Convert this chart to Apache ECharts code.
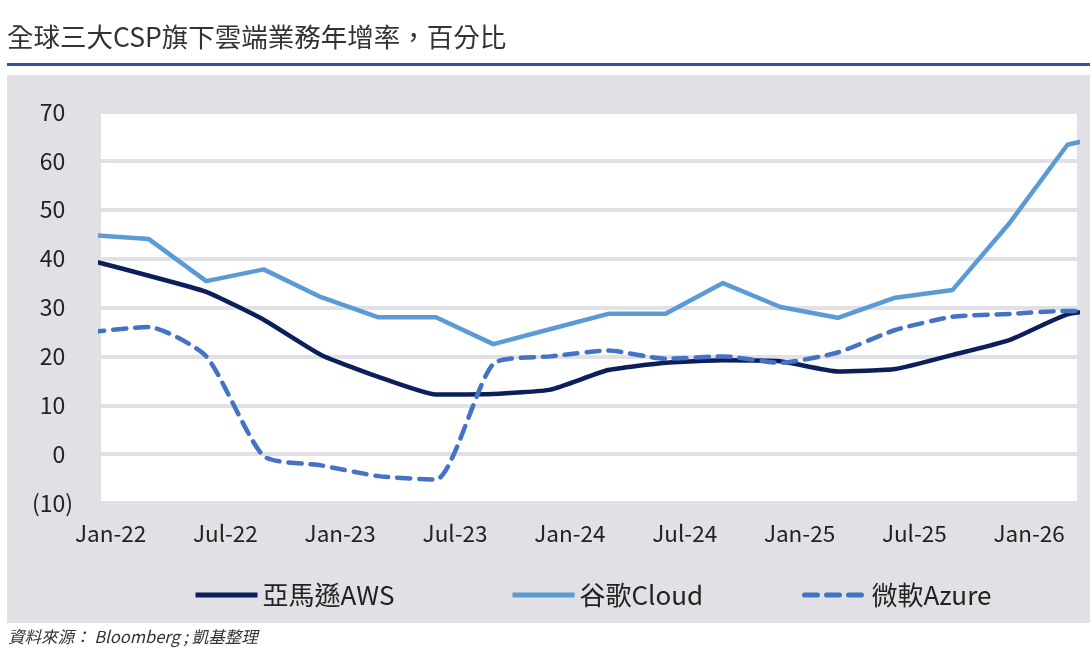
<!DOCTYPE html>
<html>
<head>
<meta charset="utf-8">
<script src="https://cdn.jsdelivr.net/npm/echarts@6/dist/echarts.min.js"></script>
<style>
html,body{margin:0;padding:0;background:#fff;}
#chart{width:1090px;height:660px;}
</style>
</head>
<body>
<div id="chart"></div>
<script>
// Quarter-end periods (YYYY-MM)
const periods = ['2021-12','2022-03','2022-06','2022-09','2022-12','2023-03','2023-06','2023-09','2023-12',
                 '2024-03','2024-06','2024-09','2024-12','2025-03','2025-06','2025-09','2025-12','2026-03','2026-06'];
const awsValues   = [39.6, 36.5, 33.2, 27.5, 20.3, 15.8, 12.2, 12.3, 13.2, 17.2, 18.7, 19.2, 19.0, 16.9, 17.4, 20.3, 23.4, 28.6, 30.0];
const googleValues= [44.8, 44.0, 35.4, 37.8, 32.1, 28.0, 28.0, 22.5, 25.6, 28.7, 28.7, 35.0, 30.1, 27.9, 32.0, 33.6, 47.4, 63.3, 66.0];
const azureValues = [25.0, 26.0, 20.0, -0.4, -2.3, -4.5, -5.2, 18.5, 20.0, 21.2, 19.5, 20.0, 18.7, 20.8, 25.4, 28.1, 28.7, 29.3, 29.0];
const seriesNames = ['亞馬遜AWS', '谷歌Cloud', '微軟Azure'];
const xTickLabels = ['Jan-22','Jul-22','Jan-23','Jul-23','Jan-24','Jul-24','Jan-25','Jul-25','Jan-26'];
const yTicks = [-10, 0, 10, 20, 30, 40, 50, 60, 70];
const titleText = '全球三大CSP旗下雲端業務年增率，百分比';
const sourceText = '資料來源： Bloomberg ; 凱基整理';

// months since Jan-2022
function monthOffset(p) {
  const [y, m] = p.split('-').map(Number);
  return (y - 2022) * 12 + (m - 1);
}
const xs = periods.map(monthOffset);
const toPairs = vals => vals.map((v, i) => [xs[i], v]);
const labelMonths = xTickLabels.map((_, i) => i * 6);

const FONT = '"Noto Sans CJK TC", "Noto Sans", sans-serif';
const GREY = '#e1e0e4';

const chart = echarts.init(document.getElementById('chart'), null, {renderer: 'canvas'});
const option = {
  backgroundColor: '#ffffff',
  animation: false,
  graphic: [
    {type: 'rect', z: -10, shape: {x: 7, y: 75, width: 1083, height: 548}, style: {fill: GREY}},
    {type: 'line', shape: {x1: 7, y1: 64.5, x2: 1090, y2: 64.5}, style: {stroke: '#2f5597', lineWidth: 3}},
    {type: 'text', left: 7, top: 24, style: {text: titleText, font: '26.5px ' + FONT, fill: '#333333'}},
    {type: 'text', left: 8, top: 628, style: {text: sourceText, font: 'italic 16.5px ' + FONT, fill: '#333333'}}
  ],
  grid: {
    left: 101, right: 13, top: 112, bottom: 157,
    show: true, backgroundColor: '#ffffff', borderWidth: 0
  },
  legend: [
    {data: [seriesNames[0]], left: 188, top: 577},
    {data: [seriesNames[1]], left: 505, top: 577},
    {data: [seriesNames[2]], left: 797, top: 577}
  ].map(l => Object.assign(l, {
    itemWidth: 62, itemHeight: 2, itemGap: 6,
    itemStyle: {opacity: 0},
    lineStyle: {width: 5},
    textStyle: {fontFamily: FONT, fontSize: 26, color: '#222222'}
  })),
  xAxis: {
    type: 'value',
    min: -0.5, max: 50.5,
    axisLine: {show: false},
    axisTick: {show: false},
    splitLine: {show: false},
    axisLabel: {
      customValues: labelMonths,
      formatter: v => xTickLabels[Math.round(v / 6)] || '',
      fontFamily: FONT, fontSize: 22.5, color: '#222222', margin: 19
    }
  },
  yAxis: {
    type: 'value',
    min: yTicks[0], max: yTicks[yTicks.length - 1], interval: 10,
    axisLine: {show: false},
    axisTick: {show: false},
    splitLine: {show: true, lineStyle: {color: GREY, width: 4}},
    axisLabel: {
      formatter: v => v < 0 ? '(' + (-v) + ')' : v + '{h|)}',
      rich: {h: {color: 'rgba(0,0,0,0)', fontFamily: FONT, fontSize: 23}},
      fontFamily: FONT, fontSize: 23, color: '#222222', margin: 28
    }
  },
  series: [
    {
      name: seriesNames[0], type: 'line', data: toPairs(awsValues),
      symbol: 'none', smooth: 0.15,
      lineStyle: {color: '#0c1f5b', width: 4.5, join: 'round'},
      itemStyle: {color: '#0c1f5b'}, z: 3
    },
    {
      name: seriesNames[1], type: 'line', data: toPairs(googleValues),
      symbol: 'none', smooth: false,
      lineStyle: {color: '#5b9bd5', width: 4.5, join: 'round'},
      itemStyle: {color: '#5b9bd5'}, z: 2
    },
    {
      name: seriesNames[2], type: 'line', data: toPairs(azureValues),
      symbol: 'none', smooth: 0.2,
      lineStyle: {color: '#4472c4', width: 4.5, type: [13, 9], cap: 'round', join: 'round'},
      itemStyle: {color: '#4472c4'}, z: 4
    }
  ]
};
chart.setOption(option);
</script>
</body>
</html>
